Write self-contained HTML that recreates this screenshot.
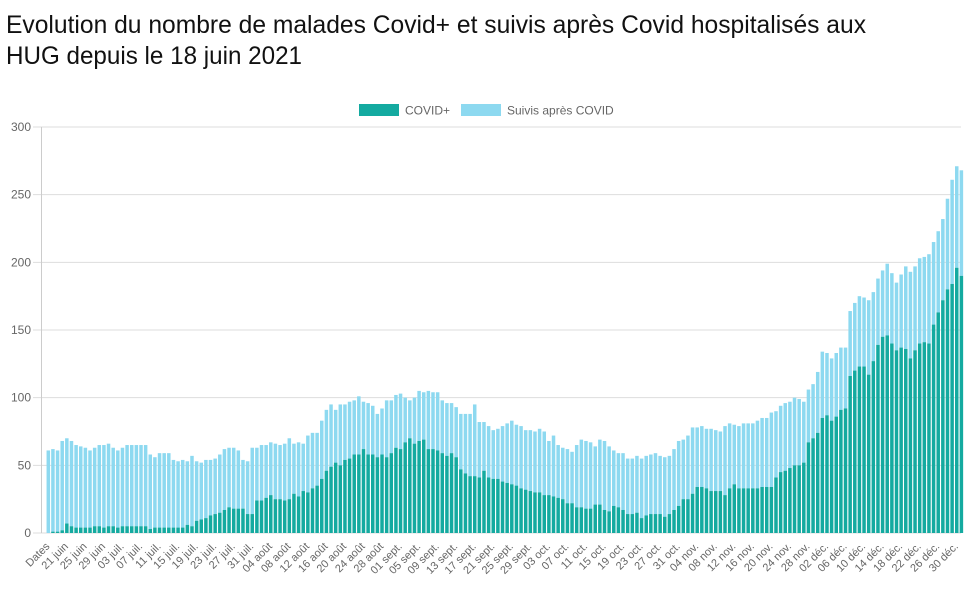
<!DOCTYPE html>
<html><head><meta charset="utf-8">
<style>
html,body{margin:0;padding:0;background:#fff;width:966px;height:593px;overflow:hidden}
svg{display:block}
</style></head>
<body>
<svg id="c" width="966" height="593" xmlns="http://www.w3.org/2000/svg">
<text x="6" y="33" font-family="Liberation Sans Narrow, Liberation Sans, sans-serif" font-size="25" fill="#111" textLength="860" lengthAdjust="spacingAndGlyphs">Evolution du nombre de malades Covid+ et suivis après Covid hospitalisés aux</text>
<text x="6" y="64" font-family="Liberation Sans Narrow, Liberation Sans, sans-serif" font-size="25" fill="#111" textLength="296" lengthAdjust="spacingAndGlyphs">HUG depuis le 18 juin 2021</text>
<rect x="359" y="104" width="40" height="12" fill="#14aaa0"/>
<text x="405" y="114.5" font-family="Liberation Sans, sans-serif" font-size="12" fill="#666">COVID+</text>
<rect x="461" y="104" width="40" height="12" fill="#8dd9f0"/>
<text x="507" y="114.5" font-family="Liberation Sans, sans-serif" font-size="12" fill="#666">Suivis après COVID</text>
<g id="g"></g>
</svg>
<script>
var T=[61,62,61,68,70,68,65,64,63,61,63,65,65,66,63,61,63,65,65,65,65,65,58,56,59,59,59,54,53,54,53,57,53,52,54,54,55,58,62,63,63,61,54,53,63,63,65,65,67,66,65,66,70,66,67,66,72,74,74,
83,91,95,91,95,95,97,98,101,97,96,94,88,92,98,98,102,103,100,98,100,105,104,105,104,104,98,96,96,93,88,88,88,95,82,82,79,76,77,79,81,83,80,79,76,76,75,77,75,68,72,65,63,62,60,65,69,68,67,64,69,68,64,61,59,59,55,55,57,
55,57,58,59,57,56,57,62,68,69,72,78,78,79,77,77,76,75,79,81,80,79,81,83,85,85,89,90,94,96,97,100,99,97,106,110,119,134,133,129,133,137,137,164,170,175,174,172,178,188,194,199,192,185,191,197,193,197,203,204,206,215,223,232,247,261,271,268];
var C=[0,1,1,2,7,5,4,4,4,4,5,5,4,5,5,4,5,5,5,5,5,5,3,4,4,4,4,4,4,4,6,5,9,10,11,13,14,15,17,19,18,18,18,14,14,24,24,26,28,25,25,24,25,29,27,31,30,33,35,
40,46,49,52,50,54,55,58,58,62,58,58,56,58,56,59,63,62,67,70,66,68,69,62,62,61,59,57,59,56,47,44,42,42,41,46,41,40,40,38,37,36,35,33,32,31,30,30,28,28,27,26,25,22,22,19,19,18,18,21,21,17,16,20,19,17,14,14,15,
11,13,14,14,14,12,14,17,20,25,25,29,34,34,33,31,31,31,28,33,36,33,33,33,34,34,34,41,45,46,48,50,50,52,67,70,74,85,87,83,86,91,92,116,120,123,123,117,127,139,145,146,140,135,137,136,129,135,140,141,140,154,163,172,180,184,196,190];
function fit(a){while(a.length<198)a.splice(150,0,a[150]);while(a.length>198)a.splice(150,1);return a;}
T=fit(T);C=fit(C);
var s='',y0=533,k=406/300;
for(var v=0;v<=300;v+=50){var y=y0-v*k;s+='<line x1="33" x2="961" y1="'+y+'" y2="'+y+'" stroke="#ddd" stroke-width="1"/>';
s+='<text x="31" y="'+(y+4)+'" text-anchor="end" font-family="Liberation Sans, sans-serif" font-size="12" fill="#666">'+v+'</text>';}
s+='<line x1="41.5" x2="41.5" y1="127" y2="533" stroke="#ccc"/>';
var labels=["Dates","21 juin","25 juin","29 juin","03 juil.","07 juil.","11 juil.","15 juil.","19 juil.","23 juil.","27 juil.","31 juil.","04 août","08 août","12 août","16 août","20 août","24 août","28 août","01 sept.","05 sept.","09 sept.","13 sept.","17 sept.","21 sept.","25 sept.","29 sept.","03 oct.","07 oct.","11 oct.","15 oct.","19 oct.","23 oct.","27 oct.","31 oct.","04 nov.","08 nov.","12 nov.","16 nov.","20 nov.","24 nov.","28 nov.","02 déc.","06 déc.","10 déc.","14 déc.","18 déc.","22 déc.","26 déc.","30 déc."];
var step=4.635,w=3.5;
for(var i=0;i<198;i++){var cx=48.3+step*i,x=cx-w/2;
var ht=Math.max(T[i],C[i])*k,hc=C[i]*k;
s+='<rect x="'+x.toFixed(2)+'" y="'+(y0-ht).toFixed(2)+'" width="'+w+'" height="'+(ht-hc).toFixed(2)+'" fill="#8dd9f0"/>';
if(hc>0)s+='<rect x="'+x.toFixed(2)+'" y="'+(y0-hc).toFixed(2)+'" width="'+w+'" height="'+hc.toFixed(2)+'" fill="#14aaa0"/>';
if(i%4==0){var lx=cx+2,ly=547;s+='<text transform="translate('+lx.toFixed(1)+','+ly+') rotate(-45)" text-anchor="end" font-family="Liberation Sans, sans-serif" font-size="11" fill="#666">'+labels[i/4]+'</text>';}}
document.getElementById('g').innerHTML=s;
</script>
</body></html>
